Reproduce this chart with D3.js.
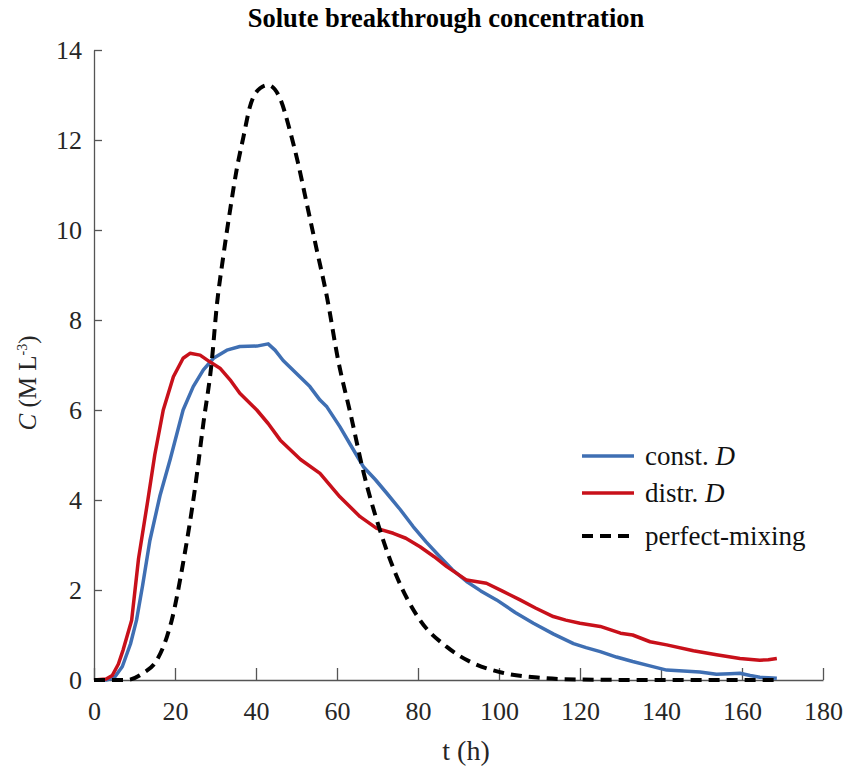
<!DOCTYPE html>
<html>
<head>
<meta charset="utf-8">
<script src="https://cdn.jsdelivr.net/npm/d3@7"></script>
<style>
  body { margin: 0; background: #fff; }
  svg text { font-family: "Liberation Serif", "Times New Roman", serif; }
</style>
</head>
<body>
<svg id="chart" width="845" height="774"></svg>
<script>
// values
const tConst = [0, 3, 5, 7, 9, 10.5, 12, 13.8, 16.3, 18.8, 22, 24.5, 27, 29.5, 32.8, 36, 40.2, 43, 44.7, 46.7, 50, 53.3, 55.8, 57.5, 60.7, 63.5, 66.5, 69.5, 72.3, 75.5, 78.8, 82, 85.4, 88.5, 92, 95.5, 99.4, 104, 108.5, 113.5, 118.4, 121.5, 125, 129, 133, 137, 141.4, 145.5, 149.6, 153.7, 157, 159.5, 162, 164.4, 166.5, 168.6];
const cConst = [0, 0, 0.05, 0.3, 0.8, 1.33, 2.1, 3.1, 4.1, 4.9, 6.0, 6.52, 6.89, 7.15, 7.33, 7.41, 7.42, 7.47, 7.33, 7.1, 6.81, 6.52, 6.22, 6.07, 5.63, 5.2, 4.74, 4.45, 4.15, 3.8, 3.41, 3.07, 2.74, 2.45, 2.19, 1.98, 1.78, 1.5, 1.26, 1.02, 0.81, 0.72, 0.63, 0.51, 0.41, 0.32, 0.22, 0.2, 0.18, 0.13, 0.14, 0.15, 0.1, 0.06, 0.05, 0.04];

const tDistr = [0, 3, 4.5, 6, 7.2, 9.3, 11, 13.3, 15, 17.1, 19.6, 22, 23.7, 26.2, 28.6, 31.1, 33.6, 36, 38.5, 40.2, 43, 46, 51, 55.8, 60.7, 65.7, 69.8, 73.9, 77, 80.5, 84, 87.1, 92, 96.9, 101, 105.2, 109, 113.4, 116.5, 120, 125, 130, 133, 137.3, 141.4, 148, 153.7, 159.5, 164.4, 166.5, 168.6];
const cDistr = [0, 0.02, 0.1, 0.35, 0.67, 1.33, 2.7, 4.0, 5.0, 6.0, 6.74, 7.15, 7.26, 7.22, 7.07, 6.93, 6.67, 6.37, 6.15, 6.0, 5.7, 5.33, 4.9, 4.59, 4.07, 3.63, 3.37, 3.26, 3.15, 2.96, 2.74, 2.52, 2.22, 2.15, 1.97, 1.78, 1.6, 1.41, 1.33, 1.26, 1.19, 1.04, 1.0, 0.85, 0.78, 0.65, 0.56, 0.48, 0.44, 0.45, 0.48];

const tMix = [0, 4, 8, 12.1, 15.5, 18, 19.2, 22, 25, 27, 29.1, 30.3, 31.9, 33.6, 35.2, 36.9, 38.5, 41, 43, 45.9, 48.4, 50.4, 52.5, 55, 57.5, 60.3, 63.5, 66.4, 70.6, 74.8, 80.5, 87.2, 93, 100, 110, 120, 140, 168.6];
const cMix = [0, 0, 0, 0.15, 0.44, 0.96, 1.33, 2.6, 4.3, 5.7, 7.1, 8.3, 9.4, 10.44, 11.33, 12.07, 12.74, 13.15, 13.22, 12.93, 12.2, 11.48, 10.6, 9.56, 8.52, 7.1, 5.85, 4.67, 3.33, 2.29, 1.33, 0.73, 0.4, 0.18, 0.05, 0.01, 0, 0];

const xTicks = [0, 20, 40, 60, 80, 100, 120, 140, 160, 180];
const yTicks = [0, 2, 4, 6, 8, 10, 12, 14];

const seriesNames = ["const.", "distr.", "perfect-mixing"];
const seriesColors = ["#3f6fb3", "#c8101a", "#000000"];

const svg = d3.select("#chart");
const margin = { left: 94, right: 22, top: 50, bottom: 94 };
const width = 845, height = 774;

const x = d3.scaleLinear().domain([0, 180]).range([margin.left, width - margin.right]);
const y = d3.scaleLinear().domain([0, 14]).range([height - margin.bottom, margin.top]);

// axes, ticks pointing inwards
const xAxis = svg.append("g")
  .attr("transform", `translate(0, ${y(0)})`)
  .call(d3.axisBottom(x).tickValues(xTicks).tickSizeInner(-12).tickSizeOuter(0).tickPadding(22));
const yAxis = svg.append("g")
  .attr("transform", `translate(${x(0)}, 0)`)
  .call(d3.axisLeft(y).tickValues(yTicks).tickSizeInner(-8).tickSizeOuter(0).tickPadding(12));

[xAxis, yAxis].forEach(a => {
  a.select(".domain").attr("stroke", "#555").attr("stroke-width", 1.3);
  a.selectAll(".tick line").attr("stroke", "#555").attr("stroke-width", 1.3);
  a.selectAll(".tick text").attr("fill", "#262626").style("font-size", "26px")
    .style("font-family", "'Liberation Serif', serif");
});

const line = d3.line().x(d => x(d[0])).y(d => y(d[1]));
const zipped = (ts, cs) => ts.map((t, i) => [t, cs[i]]);

svg.append("path").datum(zipped(tConst, cConst))
  .attr("fill", "none").attr("stroke", seriesColors[0]).attr("stroke-width", 3.5)
  .attr("stroke-linejoin", "round").attr("d", line);
svg.append("path").datum(zipped(tDistr, cDistr))
  .attr("fill", "none").attr("stroke", seriesColors[1]).attr("stroke-width", 3.5)
  .attr("stroke-linejoin", "round").attr("d", line);
svg.append("path").datum(zipped(tMix, cMix))
  .attr("fill", "none").attr("stroke", seriesColors[2]).attr("stroke-width", 4)
  .attr("stroke-dasharray", "11,7")
  .attr("d", d3.line().curve(d3.curveMonotoneX).x(d => x(d[0])).y(d => y(d[1])));

// title
svg.append("text")
  .attr("x", 446).attr("y", 27)
  .attr("text-anchor", "middle")
  .style("font-size", "26.5px").style("font-weight", "bold")
  .text("Solute breakthrough concentration");

// x label
svg.append("text")
  .attr("x", 466).attr("y", 760)
  .attr("text-anchor", "middle")
  .attr("fill", "#262626")
  .style("font-size", "28px")
  .text("t (h)");

// y label
const yl = svg.append("text")
  .attr("transform", "translate(36, 383) rotate(-90)")
  .attr("text-anchor", "middle")
  .attr("fill", "#262626")
  .style("font-size", "25px");
yl.append("tspan").style("font-style", "italic").text("C");
yl.append("tspan").text(" (M L");
yl.append("tspan").attr("dy", -9).style("font-size", "14px").text("-3");
yl.append("tspan").attr("dy", 9).text(")");

// legend
const legendY = [456, 493, 536];
const legend = svg.append("g");
seriesNames.forEach((name, i) => {
  legend.append("line")
    .attr("x1", 582).attr("x2", 634)
    .attr("y1", legendY[i]).attr("y2", legendY[i])
    .attr("stroke", seriesColors[i])
    .attr("stroke-width", i === 2 ? 4 : 3.5)
    .attr("stroke-dasharray", i === 2 ? "11,7" : null);
  const t = legend.append("text")
    .attr("x", 645).attr("y", legendY[i] + 9)
    .attr("fill", "#111")
    .style("font-size", "27px")
    .text(name);
  if (i < 2) t.append("tspan").style("font-style", "italic").text(" D");
});
</script>
</body>
</html>
